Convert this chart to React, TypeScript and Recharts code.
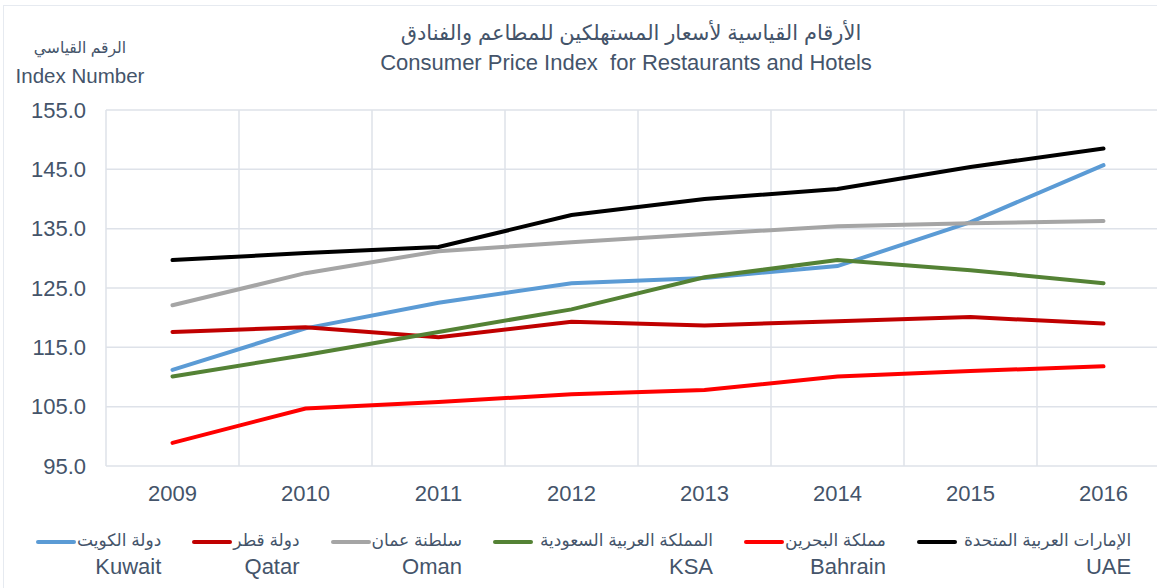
import React from 'react';
import { LineChart, Line, XAxis, YAxis, CartesianGrid } from 'recharts';

// values
const years = [2009, 2010, 2011, 2012, 2013, 2014, 2015, 2016];
const kuwait = [111.2, 118.2, 122.5, 125.8, 126.7, 128.7, 136.1, 145.7];
const qatar = [117.6, 118.4, 116.7, 119.3, 118.7, 119.4, 120.1, 119.0];
const oman = [122.1, 127.5, 131.2, 132.7, 134.1, 135.4, 135.9, 136.3];
const ksa = [110.1, 113.7, 117.6, 121.4, 126.8, 129.7, 128.0, 125.8];
const bahrain = [98.9, 104.7, 105.8, 107.1, 107.8, 110.1, 111.0, 111.8];
const uae = [129.7, 130.9, 131.9, 137.3, 140.0, 141.7, 145.4, 148.5];

const yTicks = [95, 105, 115, 125, 135, 145, 155];
const gridTicks = [2008.5, 2009.5, 2010.5, 2011.5, 2012.5, 2013.5, 2014.5, 2015.5];

const seriesKeys = ['kuwait', 'qatar', 'oman', 'ksa', 'bahrain', 'uae'];
const arabicNames = ['دولة الكويت', 'دولة قطر', 'سلطنة عمان', 'المملكة العربية السعودية', 'مملكة البحرين', 'الإمارات العربية المتحدة'];
const englishNames = ['Kuwait', 'Qatar', 'Oman', 'KSA', 'Bahrain', 'UAE'];
const colors = ['#5B9BD5', '#C00000', '#A5A5A5', '#548235', '#FF0000', '#000000'];

const data = years.map((year, i) => ({
  year,
  kuwait: kuwait[i],
  qatar: qatar[i],
  oman: oman[i],
  ksa: ksa[i],
  bahrain: bahrain[i],
  uae: uae[i],
}));

const textColor = '#44546A';
const gridColor = '#DEE2E9';
const font = '"Liberation Sans", Arial, "DejaVu Sans", sans-serif';

export default function App() {
  return (
    <div
      style={{
        position: 'absolute',
        left: 0,
        top: 0,
        width: 1157,
        height: 588,
        overflow: 'hidden',
        background: '#fff',
        fontFamily: font,
        color: textColor,
      }}
    >
      <div
        style={{
          position: 'absolute',
          left: 3,
          top: 5,
          width: 1170,
          height: 600,
          border: '1.5px solid #E6EAF0',
        }}
      />

      <div style={{ position: 'absolute', left: 0, top: 34, width: 160, textAlign: 'center', lineHeight: '28px' }}>
        <div style={{ fontSize: 15.6 }}>الرقم القياسي</div>
        <div style={{ fontSize: 20.5 }}>Index Number</div>
      </div>

      <div style={{ position: 'absolute', left: 326, top: 18, width: 600, textAlign: 'center', lineHeight: '30px' }}>
        <div style={{ fontSize: 21, paddingLeft: 10 }}>الأرقام القياسية لأسعار المستهلكين للمطاعم والفنادق</div>
        <div style={{ fontSize: 22 }}>Consumer Price Index&nbsp; for Restaurants and Hotels</div>
      </div>

      <div style={{ position: 'absolute', left: 0, top: 0 }}>
        <LineChart width={1172} height={588} data={data} margin={{ top: 110, right: 2, bottom: 82, left: 0 }}>
          <CartesianGrid stroke={gridColor} strokeWidth={1.5} xAxisId="grid" />
          <XAxis
            xAxisId="grid"
            type="number"
            dataKey="year"
            domain={[2008.5, 2016.5]}
            ticks={gridTicks}
            hide
          />
          <XAxis
            type="number"
            dataKey="year"
            domain={[2008.5, 2016.5]}
            ticks={years}
            height={40}
            axisLine={false}
            tickLine={false}
            tickSize={0}
            tickMargin={19}
            tick={{ fill: textColor, fontSize: 22, fontFamily: font }}
          />
          <YAxis
            domain={[95, 155]}
            ticks={yTicks}
            width={106}
            axisLine={false}
            tickLine={false}
            tickSize={0}
            tickMargin={20}
            tickFormatter={(v: number) => v.toFixed(1)}
            tick={{ fill: textColor, fontSize: 22, fontFamily: font }}
          />
          {seriesKeys.map((key, i) => (
            <Line
              key={key}
              xAxisId={0}
              type="linear"
              dataKey={key}
              stroke={colors[i]}
              strokeWidth={4}
              strokeLinecap="round"
              dot={false}
              isAnimationActive={false}
            />
          ))}
        </LineChart>
      </div>

      <div style={{ position: 'absolute', left: 36, top: 527, display: 'flex', gap: 31 }}>
        {seriesKeys.map((key, i) => (
          <div key={key} style={{ display: 'flex', alignItems: 'flex-start' }}>
            <div
              style={{
                width: 40,
                height: 4,
                borderRadius: 2,
                background: colors[i],
                marginTop: 13,
                marginRight: i === 3 || i === 5 ? 7 : 1,
              }}
            />
            <div style={{ display: 'flex', flexDirection: 'column', alignItems: 'flex-end' }}>
              <div style={{ fontSize: 17, lineHeight: '28px' }}>{arabicNames[i]}</div>
              <div style={{ fontSize: 22, lineHeight: '24px' }}>{englishNames[i]}</div>
            </div>
          </div>
        ))}
      </div>
    </div>
  );
}
